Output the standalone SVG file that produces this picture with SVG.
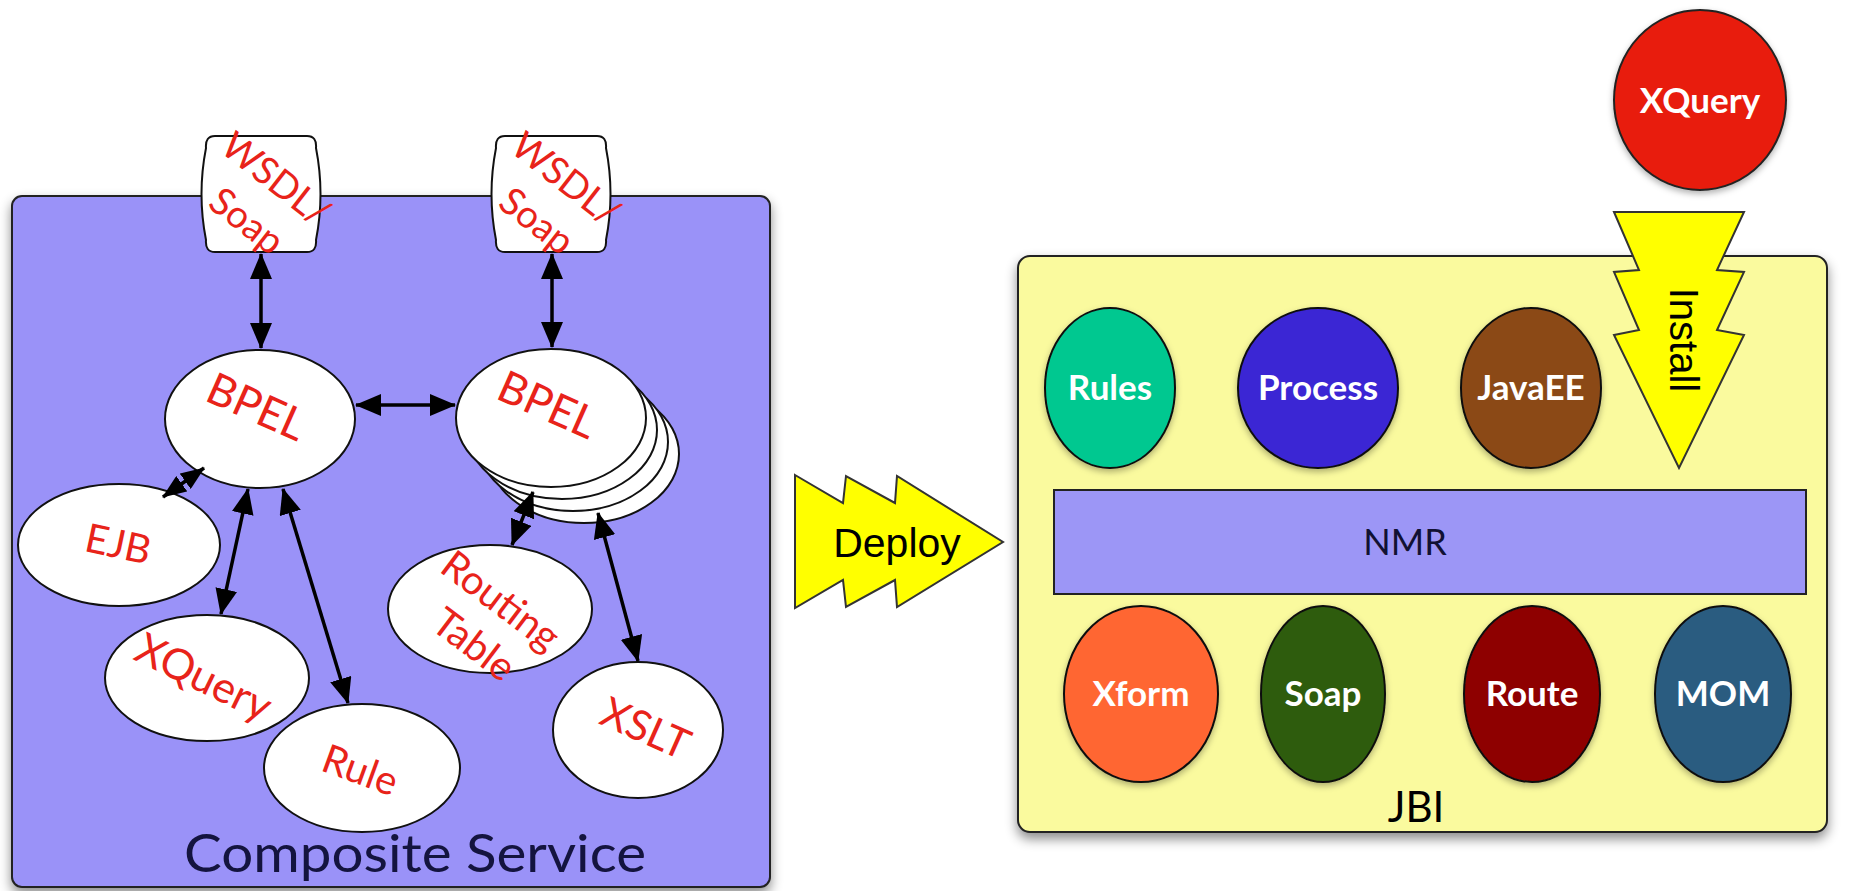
<svg xmlns="http://www.w3.org/2000/svg" width="1851" height="891" viewBox="0 0 1851 891">
<defs>
<filter id="sh" x="-10%" y="-10%" width="120%" height="125%"><feDropShadow dx="0" dy="6" stdDeviation="6" flood-color="#000" flood-opacity="0.45"/></filter>
<filter id="shs" x="-20%" y="-20%" width="140%" height="150%"><feDropShadow dx="0" dy="3" stdDeviation="3" flood-color="#000" flood-opacity="0.3"/></filter>
<marker id="ah" viewBox="0 0 26 22" refX="25" refY="11" markerWidth="26" markerHeight="22" markerUnits="userSpaceOnUse" orient="auto-start-reverse"><path d="M0,0 L26,11 L0,22 Z" fill="#000"/></marker>
<marker id="ahs" viewBox="0 0 24 19" refX="23" refY="9.5" markerWidth="24" markerHeight="19" markerUnits="userSpaceOnUse" orient="auto-start-reverse"><path d="M0,0 L24,9.5 L0,19 Z" fill="#000"/></marker>
</defs>
<style>
.lbl{font-family:Lato,"Open Sans","DejaVu Sans",sans-serif;fill:#e8231a;font-size:40px;text-anchor:middle}
.wl{font-family:Lato,"Open Sans","DejaVu Sans",sans-serif;fill:#fff;font-size:35px;font-weight:bold;text-anchor:middle}
.node{fill:#fff;stroke:#111;stroke-width:2}
.cn{stroke:#111;stroke-width:2}
.conn line{stroke:#000;stroke-width:3.5;marker-start:url(#ah);marker-end:url(#ah)}
.arrowshape{fill:#ffff00;stroke:#333;stroke-width:2;stroke-linejoin:miter}
</style>

<g id="composite-service">
<rect x="12" y="196" width="758" height="691" rx="10" fill="#9a92f8" stroke="#222" stroke-width="2" filter="url(#sh)"/>
<text x="415" y="872" font-family="Lato,'Open Sans',sans-serif" font-size="52" fill="#14143f" text-anchor="middle" textLength="462" lengthAdjust="spacingAndGlyphs">Composite Service</text>
</g>

<g id="wsdl1">
<path class="node" d="M215,136 L307,136 Q317,136 316,148 Q325,194 316,240 Q317,252 307,252 L215,252 Q205,252 206,240 Q197,194 206,148 Q205,136 215,136 Z"/>
<text class="lbl" transform="translate(261,198) rotate(38)" style="font-size:38px"><tspan x="0" y="-11">WSDL/</tspan><tspan x="3" y="40">Soap</tspan></text>
</g>
<g id="wsdl2">
<path class="node" d="M505,136 L597,136 Q607,136 606,148 Q615,194 606,240 Q607,252 597,252 L505,252 Q495,252 496,240 Q487,194 496,148 Q495,136 505,136 Z"/>
<text class="lbl" transform="translate(551,198) rotate(38)" style="font-size:38px"><tspan x="0" y="-11">WSDL/</tspan><tspan x="3" y="40">Soap</tspan></text>
</g>

<g id="bpel1">
<ellipse class="node" cx="260" cy="419" rx="95" ry="69"/>
<text class="lbl" transform="translate(256,408) rotate(24)" y="14" style="font-size:44px">BPEL</text>
</g>
<g id="bpel2">
<ellipse class="node" cx="584" cy="454" rx="95" ry="69"/>
<ellipse class="node" cx="573" cy="442" rx="95" ry="69"/>
<ellipse class="node" cx="562" cy="430" rx="95" ry="69"/>
<ellipse class="node" cx="551" cy="418" rx="95" ry="69"/>
<text class="lbl" transform="translate(547,406) rotate(24)" y="14" style="font-size:44px">BPEL</text>
</g>
<g id="ejb">
<ellipse class="node" cx="119" cy="545" rx="101" ry="61"/>
<text class="lbl" transform="translate(118,545) rotate(12)" y="13">EJB</text>
</g>
<g id="xquery-node">
<ellipse class="node" cx="207" cy="678" rx="102" ry="63"/>
<text class="lbl" transform="translate(203,679) rotate(26)" y="13" style="font-size:43px">XQuery</text>
</g>
<g id="rule">
<ellipse class="node" cx="362" cy="768" rx="98" ry="64"/>
<text class="lbl" transform="translate(360,771) rotate(20)" y="13">Rule</text>
</g>
<g id="routing-table">
<ellipse class="node" cx="490" cy="609" rx="102" ry="64"/>
<text class="lbl" transform="translate(487,624) rotate(37)"><tspan x="-3" y="-13">Routing</tspan><tspan x="2" y="38">Table</tspan></text>
</g>
<g id="xslt">
<ellipse class="node" cx="638" cy="730" rx="85" ry="68"/>
<text class="lbl" transform="translate(645,730) rotate(24)" y="13" style="font-size:42px">XSLT</text>
</g>

<g id="connectors" class="conn">
<line x1="261" y1="254" x2="261" y2="348"/>
<line x1="552" y1="254" x2="552" y2="347"/>
<line x1="356" y1="405" x2="455" y2="405"/>
<line x1="204" y1="468" x2="163" y2="497" style="marker-start:url(#ahs);marker-end:url(#ahs)"/>
<line x1="248" y1="489" x2="221" y2="614"/>
<line x1="283" y1="489" x2="348" y2="703"/>
<line x1="533" y1="492" x2="512" y2="545"/>
<line x1="598" y1="513" x2="638" y2="661"/>
</g>

<g id="deploy">
<polygon class="arrowshape" points="795,475 843,503 846,476 895,503 897,476 1003,542 897,607 895,580 846,607 843,580 795,608"/>
<text x="897" y="557" font-family="'Liberation Sans',Arial,sans-serif" font-size="41" fill="#000" text-anchor="middle">Deploy</text>
</g>

<g id="jbi">
<rect x="1018" y="256" width="809" height="576" rx="12" fill="#fafa9e" stroke="#222" stroke-width="2" filter="url(#sh)"/>
<text x="1416" y="822" font-family="Lato,'Open Sans',sans-serif" font-size="42" fill="#000" text-anchor="middle">JBI</text>
</g>

<g id="xquery-component">
<ellipse cx="1700" cy="100" rx="86" ry="90" fill="#e81e0a" stroke="#222" stroke-width="2" filter="url(#shs)"/>
<text class="wl" x="1700" y="113">XQuery</text>
</g>

<g id="install">
<polygon class="arrowshape" points="1614,212 1639,270 1614,272 1639,330 1614,335 1679,468 1744,335 1717,330 1744,272 1717,270 1744,212"/>
<text transform="translate(1684,340) rotate(90)" y="14" font-family="'Liberation Sans',Arial,sans-serif" font-size="40" fill="#000" text-anchor="middle">Install</text>
</g>

<g id="rules"><ellipse class="cn" cx="1110" cy="388" rx="65" ry="80" fill="#00c890" filter="url(#shs)"/><text class="wl" x="1110" y="400">Rules</text></g>
<g id="process"><ellipse class="cn" cx="1318" cy="388" rx="80" ry="80" fill="#3b26d4" filter="url(#shs)"/><text class="wl" x="1318" y="400">Process</text></g>
<g id="javaee"><ellipse class="cn" cx="1531" cy="388" rx="70" ry="80" fill="#8b4a14" filter="url(#shs)"/><text class="wl" x="1531" y="400">JavaEE</text></g>

<g id="nmr">
<rect x="1054" y="490" width="752" height="104" fill="#9c96f6" stroke="#222" stroke-width="2"/>
<text x="1405" y="555" font-family="Lato,'Open Sans',sans-serif" font-size="36" fill="#111133" text-anchor="middle">NMR</text>
</g>

<g id="xform"><ellipse class="cn" cx="1141" cy="694" rx="77" ry="88" fill="#ff6633" filter="url(#shs)"/><text class="wl" x="1141" y="706">Xform</text></g>
<g id="soap"><ellipse class="cn" cx="1323" cy="694" rx="62" ry="88" fill="#2d5c10" filter="url(#shs)"/><text class="wl" x="1323" y="706">Soap</text></g>
<g id="route"><ellipse class="cn" cx="1532" cy="694" rx="68" ry="88" fill="#8e0000" filter="url(#shs)"/><text class="wl" x="1532" y="706">Route</text></g>
<g id="mom"><ellipse class="cn" cx="1723" cy="694" rx="68" ry="88" fill="#2b5b80" filter="url(#shs)"/><text class="wl" x="1723" y="706">MOM</text></g>
</svg>
